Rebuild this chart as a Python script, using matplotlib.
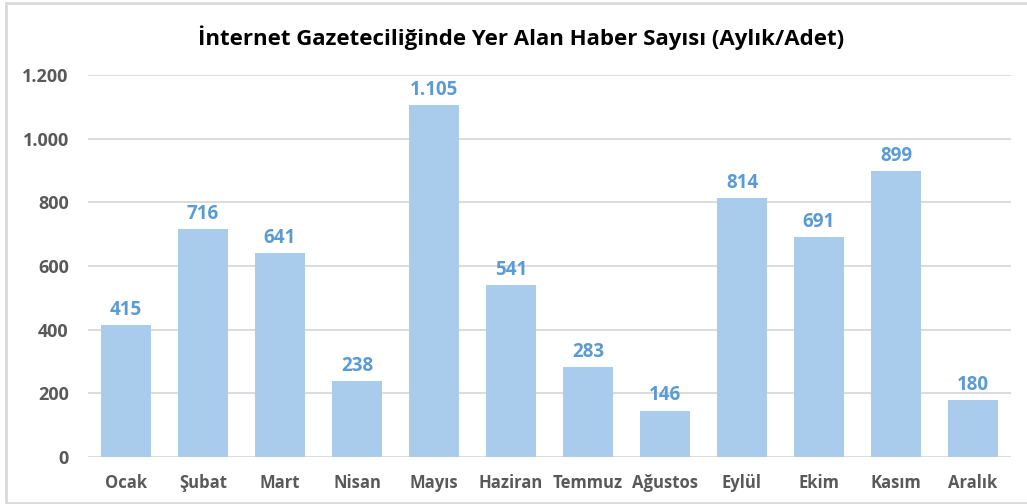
import matplotlib.pyplot as plt
from matplotlib.patches import Rectangle
from matplotlib.ticker import FuncFormatter

months = ['Ocak', 'Şubat', 'Mart', 'Nisan', 'Mayıs', 'Haziran',
          'Temmuz', 'Ağustos', 'Eylül', 'Ekim', 'Kasım', 'Aralık']
counts = [415, 716, 641, 238, 1105, 541, 283, 146, 814, 691, 899, 180]
yticks = [0, 200, 400, 600, 800, 1000, 1200]

plt.rcParams['font.family'] = ['Open Sans', 'DejaVu Sans']


def tr_fmt(v):
    # Turkish thousands separator
    return f'{int(v):,}'.replace(',', '.')


fig = plt.figure(figsize=(10.27, 5.04), dpi=100)
fig.patches.append(Rectangle((6 / 1027, 1 / 504), 1.0, 500 / 504,
                             transform=fig.transFigure, fill=False,
                             edgecolor='#D9D9D9', linewidth=2))

ax = fig.add_axes([0.0852, 0.0933, 0.8997, 0.7579])
x = range(len(months))
bars = ax.bar(x, counts, width=0.66, color='#A9CBEC', zorder=2)

for xi, v in zip(x, counts):
    ax.text(xi, v + 16, tr_fmt(v), ha='center', va='bottom',
            fontsize=13.5, fontweight='bold', color='#5B9BD5')

ax.set_xlim(-0.5, len(months) - 0.5)
ax.set_ylim(0, 1200)
ax.set_yticks(yticks)
ax.yaxis.set_major_formatter(FuncFormatter(lambda v, p: tr_fmt(v)))
ax.set_xticks(list(x))
ax.set_xticklabels(months)
ax.grid(axis='y', color='#D9D9D9', linewidth=1.3, zorder=0)
ax.tick_params(axis='y', length=0, labelsize=13, labelcolor='#595959', pad=13.5)
ax.tick_params(axis='x', length=0, labelsize=12, labelcolor='#595959', pad=12)
for lab in ax.get_xticklabels() + ax.get_yticklabels():
    lab.set_fontweight('bold')
for s in ax.spines.values():
    s.set_visible(False)

fig.text(0.507, 0.925, 'İnternet Gazeteciliğinde Yer Alan Haber Sayısı (Aylık/Adet)',
         ha='center', va='center', fontsize=16, fontweight='bold', color='black')

fig.savefig('out.png', dpi=100)
